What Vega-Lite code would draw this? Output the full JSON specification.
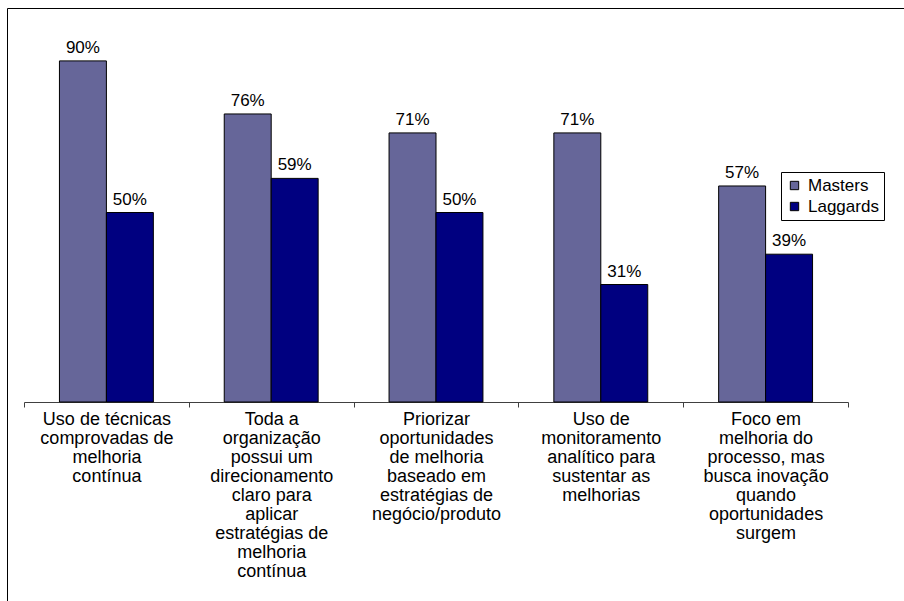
{
  "$schema": "https://vega.github.io/schema/vega-lite/v6.json",
  "width": 900,
  "height": 600,
  "padding": {"left": 7, "top": 8, "right": 0, "bottom": 0},
  "autosize": {"type": "pad"},
  "background": "white",
  "config": {"view": {"stroke": "black", "strokeWidth": 1}, "font": "Liberation Sans"},
  "data": {
    "values": [
      {"category": "Uso de técnicas|comprovadas de|melhoria|contínua", "series": "Masters", "value": 0.90},
      {"category": "Uso de técnicas|comprovadas de|melhoria|contínua", "series": "Laggards", "value": 0.50},
      {"category": "Toda a|organização|possui um|direcionamento|claro para|aplicar|estratégias de|melhoria|contínua", "series": "Masters", "value": 0.76},
      {"category": "Toda a|organização|possui um|direcionamento|claro para|aplicar|estratégias de|melhoria|contínua", "series": "Laggards", "value": 0.59},
      {"category": "Priorizar|oportunidades|de melhoria|baseado em|estratégias de|negócio/produto", "series": "Masters", "value": 0.71},
      {"category": "Priorizar|oportunidades|de melhoria|baseado em|estratégias de|negócio/produto", "series": "Laggards", "value": 0.50},
      {"category": "Uso de|monitoramento|analítico para|sustentar as|melhorias", "series": "Masters", "value": 0.71},
      {"category": "Uso de|monitoramento|analítico para|sustentar as|melhorias", "series": "Laggards", "value": 0.31},
      {"category": "Foco em|melhoria do|processo, mas|busca inovação|quando|oportunidades|surgem", "series": "Masters", "value": 0.57},
      {"category": "Foco em|melhoria do|processo, mas|busca inovação|quando|oportunidades|surgem", "series": "Laggards", "value": 0.39}
    ]
  },
  "encoding": {
    "x": {
      "field": "category",
      "type": "nominal",
      "sort": null,
      "scale": {"range": [17, 841], "paddingInner": 0, "paddingOuter": 0},
      "axis": {
        "title": null,
        "labelAngle": 0,
        "labelExpr": "split(datum.label, '|')",
        "offset": -206,
        "tickBand": "extent",
        "tickSize": 5,
        "domainColor": "#404040",
        "tickColor": "#404040",
        "labelFont": "Liberation Sans",
        "labelFontSize": 18,
        "labelColor": "black",
        "labelLineHeight": 19,
        "labelPadding": 3,
        "labelBaseline": "top",
        "labelOverlap": false,
        "labelLimit": 0
      }
    },
    "xOffset": {
      "field": "series",
      "type": "nominal",
      "sort": ["Masters", "Laggards"],
      "scale": {"paddingInner": 0, "paddingOuter": 0.755}
    },
    "y": {
      "field": "value",
      "type": "quantitative",
      "scale": {"domain": [0, 1], "range": [394, 15]},
      "axis": null
    }
  },
  "layer": [
    {
      "mark": {"type": "bar", "stroke": "black", "strokeWidth": 1},
      "encoding": {
        "fill": {
          "field": "series",
          "type": "nominal",
          "scale": {"domain": ["Masters", "Laggards"], "range": ["#666699", "#000080"]},
          "legend": {
            "title": null,
            "orient": "none",
            "legendX": 774,
            "legendY": 164,
            "strokeColor": "black",
            "fillColor": "white",
            "padding": 5,
            "symbolType": "square",
            "symbolSize": 70,
            "symbolStrokeColor": "black",
            "symbolStrokeWidth": 1,
            "labelFont": "Liberation Sans",
            "labelFontSize": 17,
            "labelColor": "black",
            "labelOffset": 5,
            "rowPadding": 3
          }
        }
      }
    },
    {
      "mark": {"type": "text", "baseline": "alphabetic", "dy": -8, "fontSize": 17, "font": "Liberation Sans", "color": "black"},
      "encoding": {"text": {"field": "value", "type": "quantitative", "format": ".0%"}}
    }
  ]
}
